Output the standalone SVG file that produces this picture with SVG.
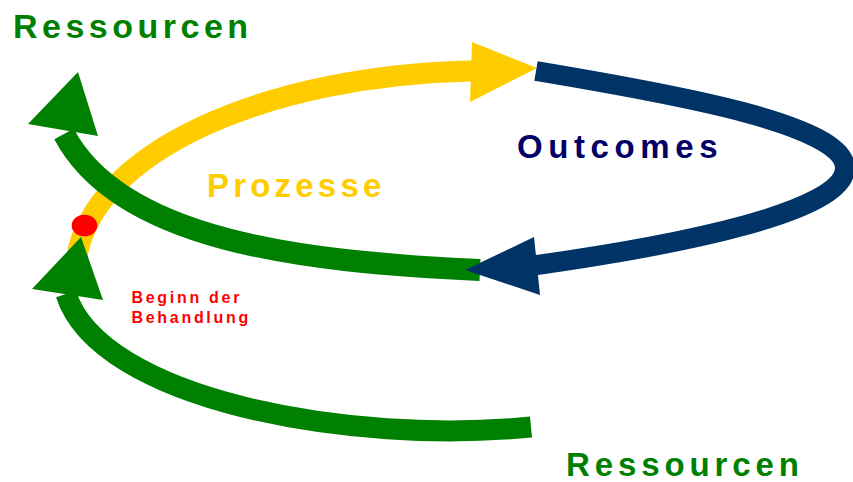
<svg xmlns="http://www.w3.org/2000/svg" width="853" height="482" viewBox="0 0 853 482">
<style>
.band{fill:none;stroke-linecap:butt}
.lbl{font-family:"Liberation Sans",Arial,sans-serif;font-weight:bold}
</style>
<rect width="853" height="482" fill="#ffffff"/>
<g id="connectors">
  <g id="prozesse-arc">
    <path class="band" d="M76,262 C90,150 270,75 472,71" stroke="#FFCC00" stroke-width="21"/>
    <polygon points="472,42 537,68 470,102" fill="#FFCC00"/>
  </g>
  <g id="ressourcen-upper-arc">
    <path class="band" d="M480,270 C300,262 120,240 64,134" stroke="#008000" stroke-width="22"/>
    <polygon points="78,72 28,124 98,136" fill="#008000"/>
  </g>
  <g id="outcomes-arc">
    <path class="band" d="M536,71 C680,95 845,125 845,168 C845,212 680,245 530,266" stroke="#003366" stroke-width="20"/>
    <polygon points="534,237 465,270 540,295" fill="#003366"/>
  </g>
  <g id="ressourcen-lower-arc">
    <path class="band" d="M531,427 C350,445 100,400 66,294" stroke="#008000" stroke-width="21"/>
    <polygon points="81,237 32,289 103,300" fill="#008000"/>
  </g>
</g>
<g id="start-point">
  <ellipse cx="84.5" cy="225.5" rx="12.8" ry="10.8" fill="#FF0000"/>
</g>
<g id="label-ressourcen-top">
  <text class="lbl" x="13" y="38" font-size="34" letter-spacing="4.5" fill="#008000">Ressourcen</text>
</g>
<g id="label-prozesse">
  <text class="lbl" x="207" y="197" font-size="33" letter-spacing="4.2" fill="#FFCC00">Prozesse</text>
</g>
<g id="label-outcomes">
  <text class="lbl" x="517" y="158" font-size="33" letter-spacing="5.6" fill="#000066">Outcomes</text>
</g>
<g id="label-beginn">
  <text class="lbl" x="131.5" font-size="16" letter-spacing="2.7" fill="#FF0000"><tspan x="131.5" y="302.5">Beginn der</tspan><tspan x="131.5" y="322.5">Behandlung</tspan></text>
</g>
<g id="label-ressourcen-bottom">
  <text class="lbl" x="566" y="476" font-size="33" letter-spacing="4.9" fill="#008000">Ressourcen</text>
</g>
</svg>
